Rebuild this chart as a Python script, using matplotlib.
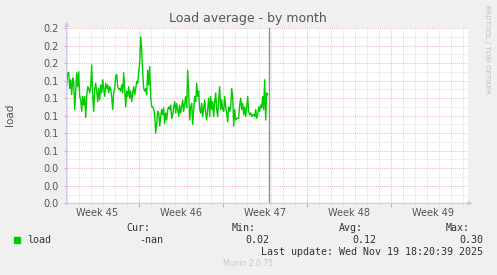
import matplotlib
matplotlib.use('Agg')
import matplotlib.pyplot as plt
from matplotlib.patches import Rectangle

# load average, one sample every 2 hours from the left edge of the graph
load = [
    # week 44 / 45
    0.135, 0.149, 0.149, 0.131, 0.141, 0.124, 0.143, 0.139, 0.107, 0.128,
    0.149, 0.133, 0.150, 0.122, 0.118, 0.105, 0.122, 0.112, 0.122, 0.098,
    0.122, 0.133, 0.131, 0.126, 0.133, 0.158, 0.122, 0.105, 0.130, 0.137,
    0.128, 0.116, 0.131, 0.118, 0.135, 0.126, 0.141, 0.130, 0.122, 0.137,
    0.131, 0.135, 0.126, 0.133, 0.130, 0.122, 0.107, 0.126, 0.131, 0.145,
    0.147,
    # week 45 / 46
    0.133, 0.130, 0.131, 0.128, 0.135, 0.126, 0.149, 0.130, 0.110, 0.128,
    0.122, 0.133, 0.120, 0.128, 0.116, 0.126, 0.133, 0.124, 0.131, 0.139,
    0.137, 0.150, 0.160, 0.190, 0.175, 0.149, 0.131, 0.128, 0.131, 0.124,
    0.152, 0.135, 0.156, 0.122, 0.110, 0.110, 0.107, 0.101, 0.080, 0.091,
    0.105, 0.103, 0.088, 0.099, 0.107, 0.101, 0.109, 0.091, 0.103, 0.095,
    0.107, 0.110,
    # week 46
    0.107, 0.112, 0.097, 0.101, 0.110, 0.116, 0.103, 0.114, 0.107, 0.099,
    0.112, 0.103, 0.110, 0.118, 0.105, 0.114, 0.122, 0.109, 0.152, 0.126,
    0.095, 0.110, 0.114, 0.090, 0.107, 0.122, 0.116, 0.137, 0.122, 0.128,
    0.107, 0.103, 0.114, 0.099, 0.109, 0.118, 0.103, 0.095, 0.107, 0.120,
    0.099, 0.122, 0.107, 0.116, 0.099, 0.116, 0.126, 0.107, 0.099, 0.118,
    0.133, 0.107,
    # week 47
    0.118, 0.107, 0.105, 0.122, 0.109, 0.103, 0.093, 0.110, 0.105, 0.109,
    0.131, 0.122, 0.088, 0.107, 0.095, 0.097, 0.097, 0.097, 0.112, 0.120,
    0.107, 0.114, 0.101, 0.110, 0.099, 0.109, 0.122, 0.105, 0.101, 0.103,
    0.099, 0.101, 0.101, 0.099, 0.107, 0.097, 0.101, 0.110, 0.105, 0.112,
    0.109, 0.122, 0.107, 0.141, 0.095, 0.126, 0.124,
]
step_days = 2 / 24
days = [i * step_days for i in range(len(load))]

span_days = 33.42          # width of the time axis
now_day = 16.88            # position of the "now" marker
week_starts = [6.05, 13.05, 20.05, 27.05]
week_label_pos = [2.55, 9.55, 16.55, 23.55, 30.55]
week_labels = ['Week 45', 'Week 46', 'Week 47', 'Week 48', 'Week 49']
day_lines = [0.05 + d for d in range(34) if (0.05 + d) not in week_starts]

y_ticks = [i * 0.02 for i in range(11)]
y_labels = ['0.0', '0.0', '0.0', '0.1', '0.1', '0.1', '0.1', '0.1', '0.2', '0.2', '0.2']
y_minor = [0.01 + i * 0.02 for i in range(10)]

legend_cols = ['Cur:', 'Min:', 'Avg:', 'Max:']
legend_vals = ['-nan', '0.02', '0.12', '0.30']

bg = '#f0f0f0'
txt = '#555555'
mono = 'DejaVu Sans Mono'

fig = plt.figure(figsize=(4.97, 2.75), dpi=100, facecolor=bg)
ax = fig.add_axes([66.7 / 497, 1 - 203.3 / 275, 401 / 497, 175.3 / 275])
ax.set_facecolor('white')

ax.plot(days, load, color='#00cc00', lw=1.0, zorder=3)
ax.axvline(now_day, color='#909090', lw=1.0, zorder=4)

ax.set_xlim(0, span_days)
ax.set_ylim(0, 0.2)

# grid: red dotted major lines, grey dotted minor lines
ax.set_yticks(y_ticks, y_labels)
ax.set_yticks(y_minor, minor=True)
ax.set_xticks(week_starts, [''] * len(week_starts))
ax.set_xticks(day_lines, minor=True)
ax.grid(which='minor', color='#d0d0d0', linestyle=(0, (1, 1.5)), lw=0.6)
ax.grid(which='major', color='#e0a0a0', linestyle=(0, (1, 1.5)), lw=0.6)
ax.tick_params(axis='y', which='major', labelsize=7, labelcolor=txt,
               length=2, color='#e0a0a0', pad=4)
ax.tick_params(axis='y', which='minor', length=1, color='#d0d0d0')
ax.tick_params(axis='x', which='major', length=3, color='#e0a0a0')
ax.tick_params(axis='x', which='minor', length=1.5, color='#d0d0d0')
ax.set_axisbelow(True)

for pos, lab in zip(week_label_pos, week_labels):
    ax.text(pos, -0.028, lab, transform=ax.get_xaxis_transform(),
            ha='center', va='top', fontsize=7, color=txt)

for s in ax.spines.values():
    s.set_visible(False)

# axis arrows
arrow = dict(arrowstyle='-|>', color='#c8c8f0', lw=0.8, mutation_scale=6,
             shrinkA=0, shrinkB=0)
ax.annotate('', xy=(0, 1.035), xytext=(0, 0), xycoords='axes fraction',
            arrowprops=arrow, annotation_clip=False)
ax.annotate('', xy=(1.012, 0), xytext=(0, 0), xycoords='axes fraction',
            arrowprops=arrow, annotation_clip=False)

fig.text(0.4986, 0.931, 'Load average - by month', ha='center', va='center',
         fontsize=9, color=txt)
fig.text(0.02, 0.582, 'load', rotation=90, ha='center', va='center',
         fontsize=7.5, color=txt)
fig.text(0.98, 0.982, 'RRDTOOL / TOBI OETIKER', rotation=270, ha='center',
         va='top', fontsize=5, color='#c0c0c0')

# legend block
fig.patches.append(Rectangle((14 / 497, 1 - 243 / 275), 6 / 497, 6 / 275,
                             transform=fig.transFigure, color='#00cc00'))
fig.text(0.0543, 0.127, 'load', ha='left', va='center', fontsize=7.2,
         family=mono, color='#333333')
for x, col in zip([0.3018, 0.515, 0.730, 0.9457], legend_cols):
    fig.text(x, 0.171, col, ha='right', va='center', fontsize=7.2,
             family=mono, color='#333333')
for x, val in zip([0.328, 0.541, 0.7565, 0.9718], legend_vals):
    fig.text(x, 0.127, val, ha='right', va='center', fontsize=7.2,
             family=mono, color='#333333')
fig.text(0.9718, 0.0836, 'Last update: Wed Nov 19 18:20:39 2025', ha='right',
         va='center', fontsize=7.2, family=mono, color='#333333')
fig.text(0.499, 0.04, 'Munin 2.0.75', ha='center', va='center', fontsize=5.5,
         color='#c8c8c8')

fig.savefig('out.png', dpi=100, facecolor=bg)
